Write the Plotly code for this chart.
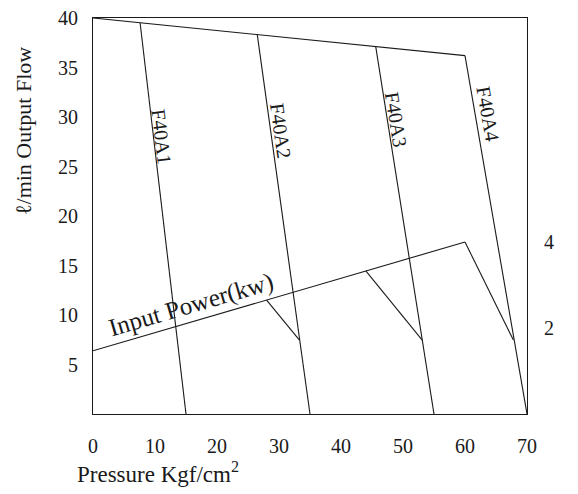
import plotly.graph_objects as go

# ---- data ----
models = ["F40A1", "F40A2", "F40A3", "F40A4"]
flow_top_x = [0, 60]
flow_top_y = [40, 36.2]
pump_top_x = [7.6, 26.5, 45.6, 60]
pump_top_y = [39.5, 38.3, 37.1, 36.2]
pump_bottom_x = [15, 35, 55, 70]
pump_bottom_y = [0, 0, 0, 0]

power_x = [0, 60]
power_kw = [1.47, 4.0]
drop_start_x = [28, 44, 60]
drop_start_kw = [2.65, 3.33, 4.0]
drop_end_x = [33.3, 53.1, 67.8]
drop_end_kw = [1.72, 1.72, 1.72]

x_ticks = [0, 10, 20, 30, 40, 50, 60, 70]
y_ticks = [5, 10, 15, 20, 25, 30, 35, 40]
y2_ticks = [2, 4]

FONT = "Liberation Serif, Times New Roman, serif"
LC = "#1a1a1a"
LW = 1.1

fig = go.Figure()

fig.add_trace(go.Scatter(x=flow_top_x, y=flow_top_y, mode="lines",
                         line=dict(color=LC, width=LW), showlegend=False, hoverinfo="skip"))
for i, m in enumerate(models):
    fig.add_trace(go.Scatter(x=[pump_top_x[i], pump_bottom_x[i]], y=[pump_top_y[i], pump_bottom_y[i]],
                             mode="lines", line=dict(color=LC, width=LW), name=m,
                             showlegend=False, hoverinfo="skip"))
fig.add_trace(go.Scatter(x=power_x, y=power_kw, mode="lines", yaxis="y2",
                         line=dict(color=LC, width=LW), showlegend=False, hoverinfo="skip"))
for i in range(len(drop_start_x)):
    fig.add_trace(go.Scatter(x=[drop_start_x[i], drop_end_x[i]], y=[drop_start_kw[i], drop_end_kw[i]],
                             mode="lines", yaxis="y2", line=dict(color=LC, width=LW),
                             showlegend=False, hoverinfo="skip"))

label_pos = [(11.1, 28.0, 83), (30.3, 28.6, 82), (48.9, 29.7, 81), (63.7, 30.3, 80)]
for m, (lx, ly, ang) in zip(models, label_pos):
    fig.add_annotation(x=lx, y=ly, text=m, showarrow=False, textangle=ang,
                       font=dict(family=FONT, size=20, color=LC),
                       xanchor="center", yanchor="middle")

fig.add_annotation(x=15.8, y=11.0, text="Input Power(kw)", showarrow=False, textangle=-16.3,
                   font=dict(family=FONT, size=25, color=LC), xanchor="center", yanchor="middle")

fig.add_annotation(xref="paper", yref="paper", x=(158 - 93) / 434, y=(414 - 472) / 396,
                   xanchor="center", yanchor="middle",
                   text="Pressure Kgf/cm<sup>2</sup>", showarrow=False,
                   font=dict(family=FONT, size=23, color=LC))
fig.add_annotation(xref="paper", yref="paper", x=(23 - 93) / 434, y=(414 - 131) / 396,
                   xanchor="center", yanchor="middle",
                   text="ℓ/min Output Flow", showarrow=False, textangle=-90,
                   font=dict(family=FONT, size=22, color=LC))

axis_common = dict(showgrid=False, zeroline=False, showline=True, linecolor=LC, linewidth=1.2,
                   ticks="", automargin=False, tickfont=dict(family=FONT, size=20, color=LC))

fig.update_layout(
    width=578, height=494,
    margin=dict(l=93, r=51, t=18, b=80),
    paper_bgcolor="white", plot_bgcolor="white",
    xaxis=dict(range=[0, 70], tickvals=x_ticks, mirror=True, ticklabelstandoff=14, **axis_common),
    yaxis=dict(range=[0, 40], tickvals=y_ticks, mirror=True, ticklabelstandoff=10, **axis_common),
    yaxis2=dict(range=[0, 9.21], tickvals=y2_ticks, overlaying="y", side="right",
                ticklabelstandoff=16, showgrid=False, zeroline=False, showline=False, ticks="",
                automargin=False, tickfont=dict(family=FONT, size=20, color=LC)),
)

fig.write_html("out.html", config={"displayModeBar": False},
               post_script="document.body.style.margin='0';document.body.style.overflow='hidden';")
